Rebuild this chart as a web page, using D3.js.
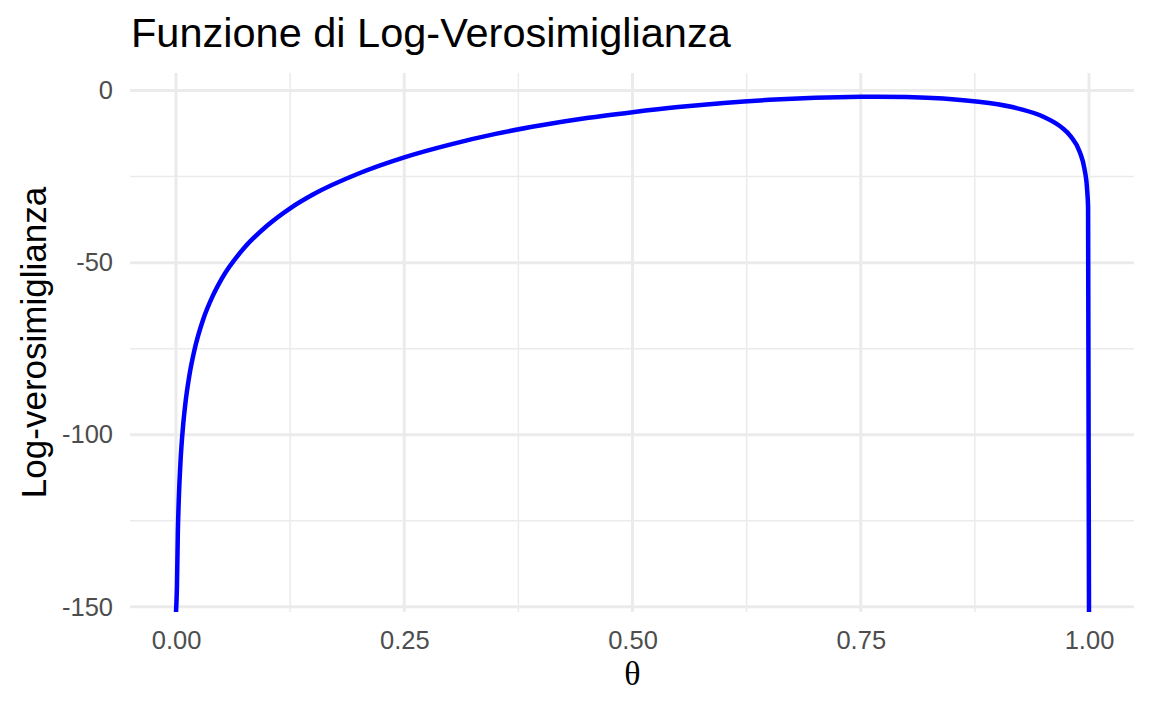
<!DOCTYPE html>
<html>
<head>
<meta charset="utf-8">
<script src="https://cdn.jsdelivr.net/npm/d3@7"></script>
<style>
  body { margin: 0; background: #fff; }
  text { font-family: "Liberation Sans", Arial, sans-serif; }
</style>
</head>
<body>
<svg id="chart" width="1152" height="711"></svg>
<script>
// values (theta, log-likelihood); -Infinity = runs off the panel
const theta = [0, 0.001, 0.002, 0.003, 0.005, 0.0075, 0.01, 0.015, 0.02, 0.03, 0.04, 0.05,
  0.075, 0.1, 0.125, 0.15, 0.2, 0.25, 0.3, 0.35, 0.4, 0.45, 0.5, 0.55, 0.6, 0.65, 0.7,
  0.75, 0.767, 0.8, 0.85, 0.9, 0.925, 0.95, 0.97, 0.98, 0.99, 0.995, 0.998, 0.999, 1]
const logLik = [-Infinity, -144.4, -128.4, -119.1, -107.4, -98.1, -91.5, -82.2, -75.6, -66.3, -59.8, -54.7,
  -45.6, -39.2, -34.2, -30.2, -24.1, -19.4, -15.7, -12.6, -10.1, -8.0, -6.3, -4.8, -3.6, -2.7, -2.1,
  -1.8, -1.77, -1.9, -2.5, -4.0, -5.4, -7.6, -10.7, -13.3, -17.9, -22.7, -29.0, -33.9, -Infinity]

const xTicks = [0, 0.25, 0.5, 0.75, 1]
const xMinor = [0.125, 0.375, 0.625, 0.875]
const yTicks = [0, -50, -100, -150]
const yMinor = [-25, -75, -125]

const svg = d3.select('#chart')
svg.append('rect').attr('width', 1152).attr('height', 711).attr('fill', '#fff')

// panel box
const panelLeft = 130, panelRight = 1134, panelTop = 73, panelBottom = 612

const x = d3.scaleLinear().domain([-0.0504, 1.0493]).range([panelLeft, panelRight])
const y = d3.scaleLinear().domain([-151.5, 5.1]).range([panelBottom, panelTop])

const grid = svg.append('g')
grid.selectAll('.xmin').data(xMinor).join('line')
  .attr('x1', d => x(d)).attr('x2', d => x(d)).attr('y1', panelTop).attr('y2', panelBottom)
  .attr('stroke', '#ebebeb').attr('stroke-width', 1.5)
grid.selectAll('.ymin').data(yMinor).join('line')
  .attr('y1', d => y(d)).attr('y2', d => y(d)).attr('x1', panelLeft).attr('x2', panelRight)
  .attr('stroke', '#ebebeb').attr('stroke-width', 1.5)
grid.selectAll('.xmaj').data(xTicks).join('line')
  .attr('x1', d => x(d)).attr('x2', d => x(d)).attr('y1', panelTop).attr('y2', panelBottom)
  .attr('stroke', '#ebebeb').attr('stroke-width', 3)
grid.selectAll('.ymaj').data(yTicks).join('line')
  .attr('y1', d => y(d)).attr('y2', d => y(d)).attr('x1', panelLeft).attr('x2', panelRight)
  .attr('stroke', '#ebebeb').attr('stroke-width', 3)

// the curve
const pts = theta.map((t, i) => [t, logLik[i]])
const line = d3.line()
  .x(d => x(d[0]))
  .y(d => isFinite(d[1]) ? y(d[1]) : y.range()[0])
  .curve(d3.curveMonotoneX)
svg.append('path').datum(pts)
  .attr('d', line)
  .attr('fill', 'none')
  .attr('stroke', '#0000ff')
  .attr('stroke-width', 4.5)
  .attr('stroke-linejoin', 'round')

// axes (text only, like theme_minimal)
const xAxis = svg.append('g').attr('transform', `translate(0,${panelBottom})`)
  .call(d3.axisBottom(x).tickValues(xTicks).tickFormat(d3.format('.2f')).tickSize(0).tickPadding(19))
xAxis.select('.domain').remove()
xAxis.selectAll('text').attr('font-size', 25.5).attr('fill', '#4d4d4d')
  .style('font-family', '"Liberation Sans", Arial, sans-serif')

const yAxis = svg.append('g').attr('transform', `translate(${panelLeft},0)`)
  .call(d3.axisLeft(y).tickValues(yTicks).tickFormat(d => String(d)).tickSize(0).tickPadding(17))
yAxis.select('.domain').remove()
yAxis.selectAll('text').attr('font-size', 25.5).attr('fill', '#4d4d4d')
  .style('font-family', '"Liberation Sans", Arial, sans-serif')

// titles
svg.append('text').attr('x', 131).attr('y', 47)
  .attr('font-size', 41.5).attr('fill', '#000')
  .text('Funzione di Log-Verosimiglianza')

svg.append('text')
  .attr('transform', `translate(46,${(panelTop + panelBottom) / 2}) rotate(-90)`)
  .attr('text-anchor', 'middle')
  .attr('font-size', 35).attr('fill', '#000')
  .text('Log-verosimiglianza')

svg.append('text').attr('x', x(0.5)).attr('y', 685)
  .attr('text-anchor', 'middle')
  .attr('font-size', 34).attr('fill', '#000')
  .style('font-family', '"Liberation Serif", "DejaVu Serif", serif')
  .text('θ')
</script>
</body>
</html>
